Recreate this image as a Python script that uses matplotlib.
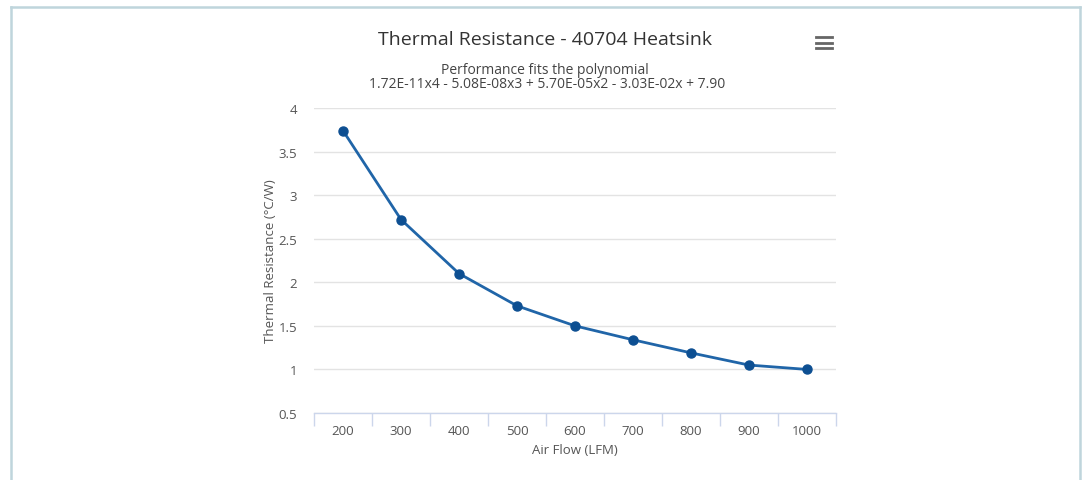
#Thermal resistance chart for the 40704 heatsink
import numpy as np
from matplotlib import pyplot as plt
from matplotlib.lines import Line2D

#Data
airFlow = ['200', '300', '400', '500', '600', '700', '800', '900', '1000']
resistance = [3.74, 2.72, 2.10, 1.73, 1.50, 1.34, 1.19, 1.05, 1.00]
yTicks = [0.5, 1, 1.5, 2, 2.5, 3, 3.5, 4]
yTickLabels = ['0.5', '1', '1.5', '2', '2.5', '3', '3.5', '4']

W, H = 1086, 481
plt.rcParams['font.family'] = ['Open Sans', 'DejaVu Sans']
fig = plt.figure(figsize=(W / 100, H / 100), dpi=100)

#pixel helper -> figure coords
def px(x, y):
  return x / W, 1 - y / H

left, right, top, bottom = 314, 836, 109, 414
ax = fig.add_axes([left / W, 1 - bottom / H, (right - left) / W, (bottom - top) / H])

pos = np.arange(len(airFlow))
ax.plot(pos, resistance, color='#2065a8', linewidth=2, marker='o', markersize=6.5,
        markerfacecolor='#0d4f92', markeredgecolor='#0d4f92', zorder=3)

ax.set_xlim(-0.5, len(airFlow) - 0.5)
ax.set_ylim(0.5, 4)
ax.set_yticks(yTicks)
ax.set_yticklabels(yTickLabels)
ax.set_xticks(pos)
ax.set_xticklabels(airFlow)
ax.set_xticks(np.arange(len(airFlow) + 1) - 0.5, minor=True)
ax.tick_params(axis='x', which='major', length=0, pad=8, labelsize=9.5, labelcolor='#555555')
ax.tick_params(axis='x', which='minor', length=9, width=1, color='#ccd6eb')
ax.tick_params(axis='y', length=0, pad=12, labelsize=9.5, labelcolor='#555555')

ax.grid(axis='y', color='#e3e3e3', linewidth=1)
ax.set_axisbelow(True)
for s in ['top', 'right', 'left']:
  ax.spines[s].set_visible(False)
ax.spines['bottom'].set_color('#ccd6eb')
ax.spines['bottom'].set_linewidth(1)

ax.set_xlabel('Air Flow (LFM)', fontsize=9.5, color='#555555', labelpad=4)
ax.set_ylabel('Thermal Resistance (°C/W)', fontsize=9.5, color='#555555', labelpad=0)
ax.yaxis.set_label_coords((277 - left) / (right - left), 0.5)

#Titles
fig.text(*px(545, 40), 'Thermal Resistance - 40704 Heatsink', ha='center', va='center',
         fontsize=14, color='#333333')
fig.text(*px(545, 70), 'Performance fits the polynomial', ha='center', va='center',
         fontsize=10, color='#444444')
fig.text(*px(547, 85), '1.72E-11x4 - 5.08E-08x3 + 5.70E-05x2 - 3.03E-02x + 7.90',
         ha='center', va='center', fontsize=10, color='#444444')

#Menu icon
for yy in [38, 43.5, 49]:
  fig.add_artist(Line2D([816 / W, 832 / W], [1 - yy / H] * 2, color='#666666', linewidth=2.0))

#Outer border (no bottom edge)
bc = '#bfd5dc'
fig.add_artist(Line2D([10.5 / W, 10.5 / W], [0, 1 - 7.5 / H], color=bc, linewidth=1.8))
fig.add_artist(Line2D([10.5 / W, 1080 / W], [1 - 7.5 / H] * 2, color=bc, linewidth=1.8))
fig.add_artist(Line2D([1080 / W, 1080 / W], [0, 1 - 7.5 / H], color=bc, linewidth=1.8))

fig.savefig('out.png', dpi=100)
